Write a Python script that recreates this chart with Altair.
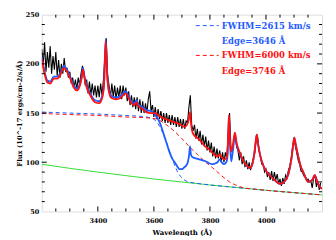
import altair as alt
import pandas as pd

# ---------------- data ----------------
black_start, black_step = 3200, 5
black_flux = [
    215, 198, 222, 192, 212, 196, 218, 190, 208, 194,
    212, 188, 204, 186, 200, 190, 206, 192, 196, 186,
    192, 180, 186, 176, 184, 174, 186, 178, 190, 198,
    192, 178, 184, 170, 182, 168, 180, 168, 178, 166,
    178, 166, 180, 168, 184, 206, 226, 188, 178, 166,
    180, 166, 178, 164, 176, 166, 178, 164, 178, 168,
    176, 162, 172, 158, 168, 156, 166, 154, 166, 152,
    164, 150, 162, 150, 160, 150, 164, 172, 152, 158,
    146, 156, 144, 154, 144, 152, 142, 150, 140, 150,
    140, 148, 138, 148, 138, 146, 136, 146, 136, 144,
    134, 144, 134, 142, 140, 156, 168, 138, 132, 138,
    124, 134, 122, 132, 118, 128, 116, 126, 112, 122,
    110, 120, 106, 116, 104, 114, 104, 112, 100, 110,
    100, 110, 104, 128, 150, 114, 110, 122, 130, 116,
    112, 102, 110, 98, 106, 95, 102, 93, 100, 92,
    98, 104, 110, 124, 126, 112, 106, 98, 98, 90,
    93, 85, 90, 82, 91, 81, 90, 82, 88, 78,
    83, 76, 84, 78, 87, 84, 92, 96, 104, 115,
    123, 116, 109, 102, 98, 91, 90, 86, 86, 82,
    83, 80, 81, 74, 84, 86, 75, 81, 72, 79,
]
black_wave = [black_start + black_step * i for i in range(len(black_flux))]

red_wave = [3200, 3210, 3220, 3230, 3243, 3255, 3265, 3279, 3290, 3300,
            3314, 3326, 3336, 3342, 3347, 3352, 3358, 3373, 3390, 3405,
            3415, 3422, 3428, 3433, 3440, 3450, 3465, 3479, 3490, 3500,
            3510, 3520, 3530, 3538, 3545, 3560, 3573, 3590, 3603, 3620,
            3632, 3650, 3668, 3690, 3709, 3718, 3724, 3729, 3733, 3740,
            3762, 3780, 3797, 3815, 3827, 3835, 3842, 3850, 3858, 3862,
            3866, 3868, 3871, 3876, 3882, 3889, 3895, 3909, 3920, 3933,
            3944, 3952, 3958, 3963, 3967, 3971, 3980, 3990, 4003, 4027,
            4050, 4065, 4080, 4091, 4097, 4101, 4106, 4115, 4125, 4133,
            4151, 4165, 4174, 4182, 4190, 4200]
red_flux = [205, 190, 181, 180, 185, 185, 188, 196, 192, 186,
            176, 173, 178, 185, 194, 186, 178, 168, 161, 160,
            165, 178, 223, 190, 171, 165, 164, 165, 168, 170,
            165, 160, 158, 161, 157, 154, 151, 150, 150, 147,
            145, 143, 141, 139, 136, 138, 143, 151, 138, 129,
            123, 117, 113, 108, 106, 108, 105, 103, 104, 108,
            135, 148, 125, 111, 118, 130, 120, 108, 101, 96,
            94, 99, 108, 120, 128, 120, 106, 97, 90, 83,
            78, 80, 88, 104, 118, 125, 118, 106, 95, 90,
            80, 82, 87, 81, 76, 73]

blue_wave = [3200, 3210, 3220, 3230, 3243, 3255, 3265, 3279, 3290, 3300,
             3314, 3326, 3336, 3342, 3347, 3352, 3358, 3373, 3390, 3405,
             3415, 3422, 3428, 3433, 3440, 3450, 3465, 3479, 3490, 3500,
             3510, 3520, 3530, 3538, 3545, 3560, 3573, 3590, 3600, 3610,
             3620, 3630, 3638, 3647, 3656, 3665, 3674, 3683, 3691, 3700,
             3709, 3716, 3721, 3726, 3729, 3732, 3738, 3750, 3762, 3774,
             3785, 3797, 3809, 3820, 3827, 3835, 3842, 3850, 3858, 3862,
             3866, 3868, 3871, 3876, 3882, 3889, 3895, 3909, 3920, 3933,
             3944, 3952, 3958, 3963, 3967, 3971, 3980, 3990, 4003, 4027,
             4050, 4065, 4080, 4091, 4097, 4101, 4106, 4115, 4125, 4133,
             4151, 4165, 4174, 4182, 4190, 4200]
blue_flux = [207, 192, 183, 182, 187, 187, 190, 198, 194, 188,
             178, 175, 180, 187, 196, 188, 180, 170, 163, 162,
             167, 180, 225, 192, 173, 167, 166, 167, 170, 172,
             167, 162, 160, 163, 159, 156, 153, 152, 150, 146,
             141, 133, 126, 118, 110, 104, 100, 96, 93, 93,
             95, 97, 100, 108, 116, 108, 105, 104, 103, 102,
             101, 99, 98, 99, 100, 103, 100, 98, 100, 104,
             132, 146, 122, 101, 112, 127, 118, 107, 101, 96,
             94, 99, 108, 120, 128, 120, 106, 97, 90, 83,
             78, 80, 88, 104, 118, 125, 118, 106, 95, 90,
             80, 82, 87, 81, 76, 73]

bdash_wave = [3200, 3300, 3400, 3500, 3560, 3590, 3610, 3625, 3640, 3655,
              3670, 3685, 3700, 3715, 3730, 3750, 3800, 3900, 4000, 4100, 4200]
bdash_flux = [151, 150, 149, 147.5, 146.5, 145, 141, 134, 124, 112,
              100, 90, 84, 81, 79.6, 78.7, 76.9, 74.2, 71.5, 69.1, 66.8]

rdash_wave = [3200, 3300, 3400, 3500, 3580, 3609, 3640, 3667, 3700, 3726,
              3755, 3785, 3815, 3843, 3870, 3891, 3920, 3950, 4000, 4100, 4200]
rdash_flux = [149.5, 148.5, 147.5, 146, 145, 144, 139, 133, 124, 116,
              108, 100, 93, 86, 80, 77, 74, 73, 71.5, 69.1, 66.8]

green_wave = [3200, 3300, 3400, 3500, 3600, 3700, 3800, 3900, 4000, 4100, 4200]
green_flux = [98, 93.8, 90, 86.4, 83, 79.9, 76.9, 74.2, 71.5, 69.1, 66.8]

x_major = [3400, 3600, 3800, 4000]
x_minor = [3250, 3300, 3350, 3450, 3500, 3550, 3650, 3700, 3750,
           3850, 3900, 3950, 4050, 4100, 4150]
y_major = [100, 150, 200]
y_minor = [60, 70, 80, 90, 110, 120, 130, 140, 160, 170, 180, 190,
           210, 220, 230, 240]
y_labels = [50, 100, 150, 200, 250]

legend_text = ["FWHM=2615 km/s", "Edge=3646 Å", "FWHM=6000 km/s", "Edge=3746 Å"]

# ---------------- styling ----------------
BLUE = "#1f5bff"
RED = "#ff1010"
GREEN = "#33dd33"
FONT = "DejaVu Serif"
W, H = 282, 198

xs = alt.Scale(domain=[3200, 4200], nice=False, zero=False)
ys = alt.Scale(domain=[50, 250], nice=False, zero=False)

X_AX = alt.Axis(
    values=x_major, format="d", ticks=False, domain=False, grid=False,
    labelFont=FONT, labelFontWeight="bold", labelFontSize=6.5, labelColor="black",
    labelPadding=6,
    title="Wavelength (Å)", titleFont=FONT, titleFontWeight="bold",
    titleFontSize=7, titleColor="black", titleX=W / 2, titleY=21,
    titleBaseline="middle")
Y_AX = alt.Axis(
    values=y_labels, format="d", ticks=False, domain=False, grid=False,
    labelFont=FONT, labelFontWeight="bold", labelFontSize=6.5, labelColor="black",
    labelPadding=3,
    title="Flux (10^-17 ergs/cm-2/s/Å)", titleFont=FONT, titleFontWeight="bold",
    titleFontSize=6.8, titleColor="black", titleX=-22, titleY=H / 2,
    titleBaseline="middle", titleAlign="center")


def series(wave, flux, color, width, dash=None, interp="linear"):
    df = pd.DataFrame({"w": wave, "f": flux})
    kw = dict(color=color, strokeWidth=width, clip=True, interpolate=interp)
    if dash:
        kw["strokeDash"] = dash
    return alt.Chart(df).mark_line(**kw).encode(
        x=alt.X("w:Q", scale=xs, axis=X_AX),
        y=alt.Y("f:Q", scale=ys, axis=Y_AX),
    )


black = series(black_wave, black_flux, "black", 1.1)
green = series(green_wave, green_flux, GREEN, 1)
bdash = series(bdash_wave, bdash_flux, BLUE, 1, dash=[4, 3], interp="monotone")
rdash = series(rdash_wave, rdash_flux, RED, 1, dash=[4, 3], interp="monotone")
bmod = series(blue_wave, blue_flux, BLUE, 1.8, interp="monotone")
rmod = series(red_wave, red_flux, RED, 1.8, interp="monotone")


def xticks(vals, length):
    df = pd.DataFrame({"w": vals})
    base = alt.Chart(df).mark_rule(color="black", strokeWidth=1)
    xe = alt.X("w:Q", scale=xs, axis=X_AX)
    return [base.encode(x=xe, y=alt.value(H), y2=alt.value(H - length)),
            base.encode(x=xe, y=alt.value(0), y2=alt.value(length))]


def yticks(vals, length):
    df = pd.DataFrame({"f": vals})
    base = alt.Chart(df).mark_rule(color="black", strokeWidth=1)
    ye = alt.Y("f:Q", scale=ys, axis=Y_AX)
    return [base.encode(y=ye, x=alt.value(0), x2=alt.value(length)),
            base.encode(y=ye, x=alt.value(W), x2=alt.value(W - length))]


ticks = xticks(x_major, 5) + xticks(x_minor, 3) + yticks(y_major, 5) + yticks(y_minor, 3)

# legend (inside top right)
leg_colors = [BLUE, BLUE, RED, RED]
leg_y = [11, 27, 41, 57]
legend = []
for i, (t, c, yy) in enumerate(zip(legend_text, leg_colors, leg_y)):
    legend.append(
        alt.Chart(pd.DataFrame({"t": [t]})).mark_text(
            font=FONT, fontWeight="bold", fontSize=8.5, color=c,
            align="left", baseline="middle").encode(
            text="t:N", x=alt.value(181), y=alt.value(yy)))
    if i % 2 == 0:
        legend.append(
            alt.Chart(pd.DataFrame({"t": [t]})).mark_rule(
                color=c, strokeWidth=1, strokeDash=[4, 3]).encode(
                x=alt.value(155), x2=alt.value(178), y=alt.value(yy)))

chart = alt.layer(black, green, bdash, rdash, bmod, rmod, *ticks, *legend).properties(
    width=W, height=H,
    autosize=alt.AutoSizeParams(type="none"),
    padding={"left": 34, "top": 6, "right": 6, "bottom": 24},
).configure_view(stroke="black", strokeWidth=1).configure(background="white")

chart.save("out.html", embed_options={"renderer": "svg", "actions": False})
